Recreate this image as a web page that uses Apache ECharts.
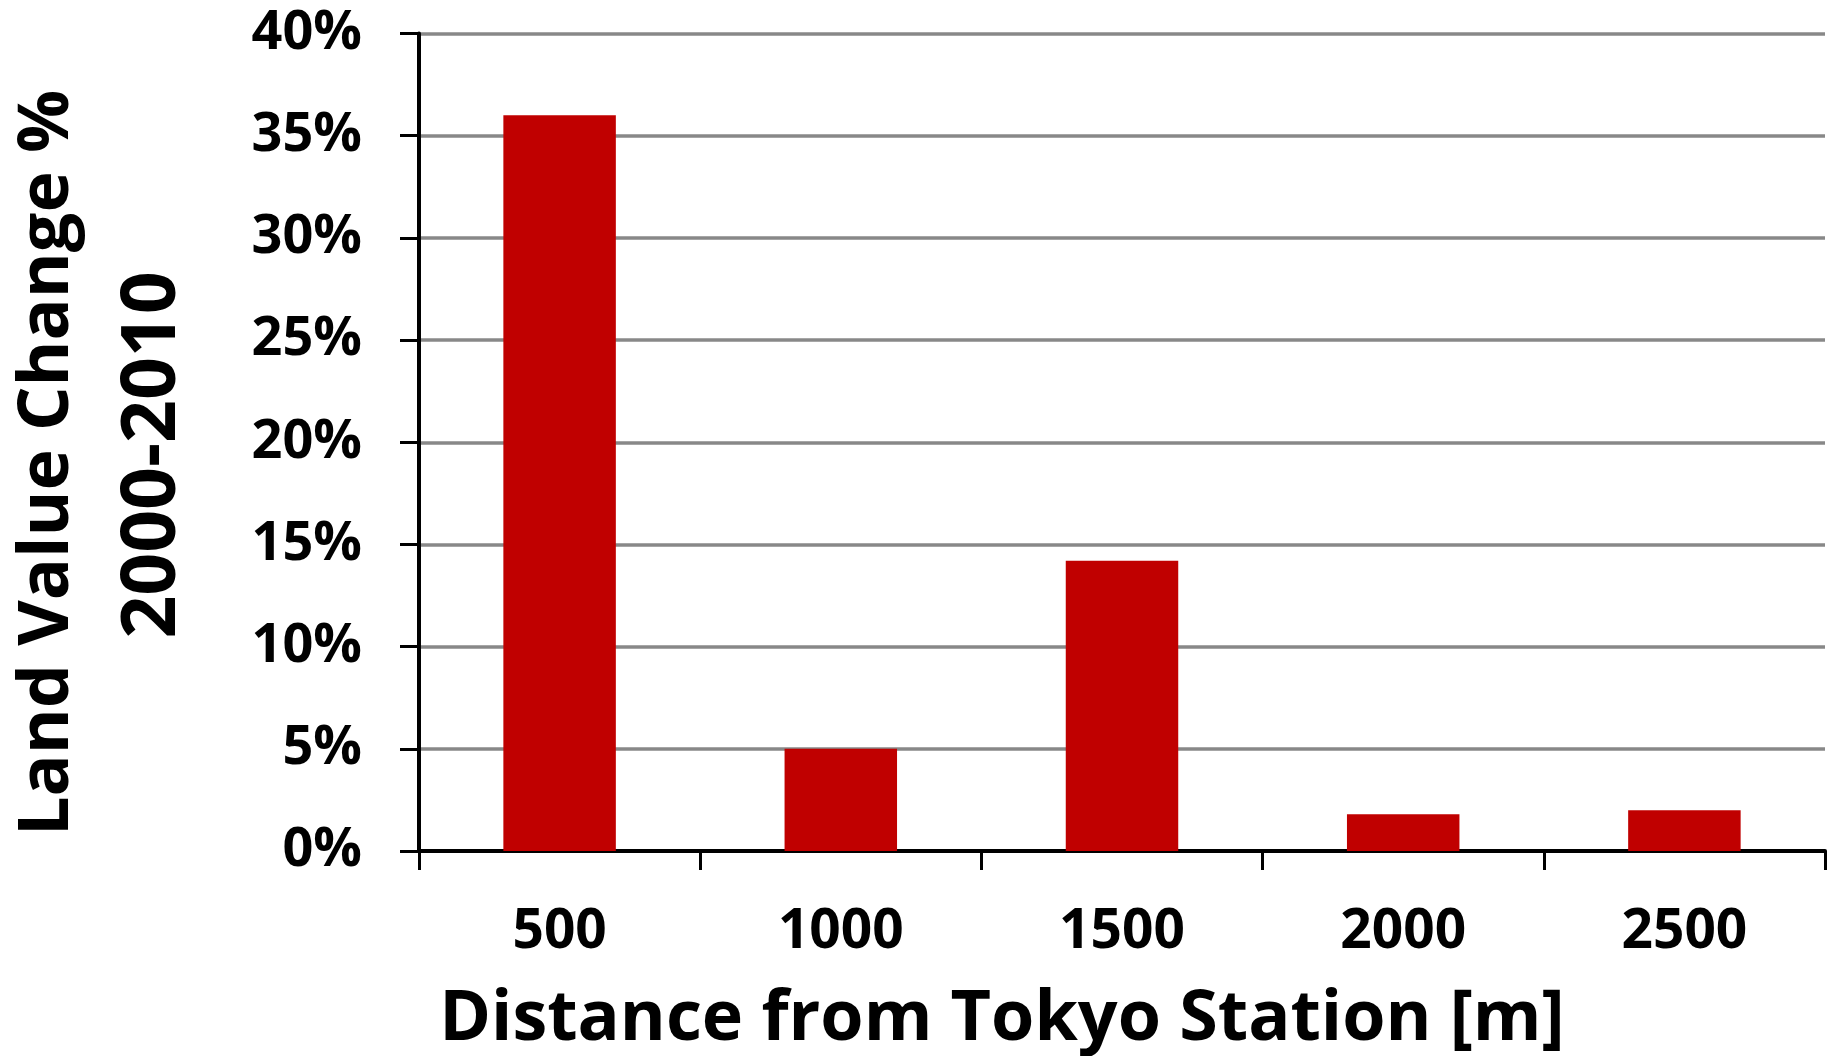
<!DOCTYPE html>
<html>
<head>
<meta charset="utf-8">
<style>
  html, body { margin: 0; padding: 0; background: #fff; }
  #chart { width: 1837px; height: 1056px; }
</style>
<script src="https://cdn.jsdelivr.net/npm/echarts@6/dist/echarts.min.js"></script>
</head>
<body>
<div id="chart"></div>
<script>
// Distance bands from Tokyo Station (metres)
const distances = ['500', '1000', '1500', '2000', '2500'];
// Land value change 2000-2010, in percent
const landValueChange = [36, 5, 14.2, 1.8, 2.0];
// Value axis range and step (percent)
const yMin = 0;
const yMax = 40;
const yStep = 5;

const FONT = '"Open Sans", sans-serif';

const chart = echarts.init(document.getElementById('chart'));
chart.setOption({
  animation: false,
  backgroundColor: '#ffffff',
  grid: { left: 419, right: 12, top: 33.5, bottom: 205, containLabel: false },
  xAxis: {
    type: 'category',
    data: distances,
    axisLine: { lineStyle: { color: '#000', width: 4 } },
    axisTick: { show: true, length: 19, lineStyle: { color: '#000', width: 3 } },
    axisLabel: {
      color: '#000', fontFamily: FONT, fontWeight: 'bold', fontSize: 55, margin: 54
    },
    splitLine: { show: false }
  },
  yAxis: {
    type: 'value',
    min: yMin,
    max: yMax,
    interval: yStep,
    axisLine: { show: true, lineStyle: { color: '#000', width: 4 } },
    axisTick: { show: true, length: 19, lineStyle: { color: '#000', width: 3 } },
    axisLabel: {
      color: '#000', fontFamily: FONT, fontWeight: 'bold', fontSize: 54, margin: 57,
      formatter: '{value}%'
    },
    splitLine: { show: true, lineStyle: { color: '#888888', width: 3.5 } }
  },
  series: [{
    type: 'bar',
    data: landValueChange,
    barWidth: '40%',
    itemStyle: { color: '#c00000' }
  }],
  graphic: [
    {
      type: 'text', x: 1002, y: 1020,
      style: {
        text: 'Distance from Tokyo Station [m]',
        fill: '#000', font: 'bold 70px ' + FONT,
        textAlign: 'center', textVerticalAlign: 'middle'
      }
    },
    {
      type: 'text', x: 48, y: 463, rotation: Math.PI / 2,
      style: {
        text: 'Land Value Change %',
        fill: '#000', font: 'bold 70px ' + FONT,
        textAlign: 'center', textVerticalAlign: 'middle'
      }
    },
    {
      type: 'text', x: 154, y: 455, rotation: Math.PI / 2,
      style: {
        text: '2000-2010',
        fill: '#000', font: 'bold 75px ' + FONT,
        textAlign: 'center', textVerticalAlign: 'middle'
      }
    }
  ]
});
</script>
</body>
</html>
